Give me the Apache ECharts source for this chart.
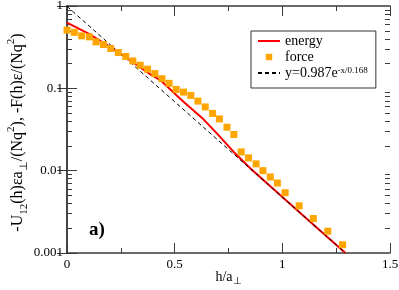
<!DOCTYPE html>
<html>
<head>
<meta charset="utf-8">
<script src="https://cdn.jsdelivr.net/npm/echarts@6/dist/echarts.min.js"></script>
<style>html,body{margin:0;padding:0;background:#fff;}#c{width:399px;height:290px;}</style>
</head>
<body>
<div id="c"></div>
<script>
// ---- data ----
const forceX = [0, 0.034, 0.068, 0.104, 0.135, 0.169, 0.203, 0.238, 0.273, 0.306, 0.340, 0.374, 0.408, 0.441, 0.474, 0.507, 0.541, 0.575, 0.608, 0.642, 0.676, 0.708, 0.743, 0.775, 0.809, 0.843, 0.878, 0.910, 0.944, 0.977, 1.013, 1.078, 1.144, 1.211, 1.28];
const forceY = [0.51, 0.478, 0.434, 0.422, 0.367, 0.341, 0.305, 0.272, 0.244, 0.215, 0.191, 0.171, 0.151, 0.131, 0.115, 0.097, 0.090, 0.082, 0.070, 0.0594, 0.0496, 0.0425, 0.0337, 0.0275, 0.0169, 0.0143, 0.0121, 0.0100, 0.00838, 0.00708, 0.0054, 0.00374, 0.00262, 0.00184, 0.00126];
const energyX = [0, 0.1, 0.2, 0.3, 0.386, 0.433, 0.541, 0.634, 0.696, 0.773, 0.851, 1.0, 1.15, 1.293];
const energyY = [0.63, 0.462, 0.32, 0.212, 0.149, 0.126, 0.0687, 0.042, 0.0284, 0.017, 0.0107, 0.0048, 0.00215, 0.001];
const fitX = [0, 1.293];
const fitY = [0.99, 0.001];
const xTicks = [0, 0.5, 1, 1.5];
const xTickLabels = ['0', '0.5', '1', '1.5'];
const yTicks = [0.001, 0.01, 0.1, 1];
const yTickLabels = ['0.001', '0.01', '0.1', '1'];
const yMinorMult = [2, 3, 4, 5, 6, 7, 8, 9];

const yMinor = [];
yTicks.slice(0, -1).forEach(d => yMinorMult.forEach(m => yMinor.push(+(d * m).toPrecision(3))));
const pairs = (xs, ys) => xs.map((x, i) => [x, ys[i]]);

const FONT = 'Liberation Serif';
const frame = '#3a3a3a';

const chart = echarts.init(document.getElementById('c'), null, {renderer: 'canvas'});
const baseX = {
  type: 'value', min: 0, max: 1.5, interval: 0.5, gridIndex: 0,
  axisLine: {show: true, lineStyle: {color: frame, width: 1.5}},
  axisTick: {show: true, inside: true, length: 10, lineStyle: {color: frame, width: 1}},
  minorTick: {show: true, splitNumber: 2, length: 5, lineStyle: {color: frame, width: 1}},
  splitLine: {show: false}, minorSplitLine: {show: false}
};
const baseY = {
  type: 'log', logBase: 10, min: 0.001, max: 1, gridIndex: 0,
  axisLine: {show: true, lineStyle: {color: frame, width: 1.5}},
  axisTick: {show: true, inside: true, length: 10, lineStyle: {color: frame, width: 1}},
  splitLine: {show: false}
};
const minorY = (pos) => ({
  type: 'log', logBase: 10, min: 0.001, max: 1, position: pos, gridIndex: 0,
  axisLine: {show: false},
  axisTick: {show: true, inside: true, length: 5, customValues: yMinor, lineStyle: {color: frame, width: 1}},
  axisLabel: {show: false}, splitLine: {show: false}
});

chart.setOption({
  animation: false,
  backgroundColor: '#fff',
  textStyle: {fontFamily: FONT},
  title: {
    text: 'a)', left: 84, top: 216,
    textStyle: {fontFamily: FONT, fontSize: 19, fontWeight: 'bold', color: '#000'}
  },
  grid: {left: 67, right: 9, top: 6, bottom: 37, containLabel: false, outerBoundsMode: 'none'},
  legend: {
    orient: 'vertical', left: 251, top: 31,
    borderColor: '#333', borderWidth: 1, padding: [3, 8, 8, 6],
    itemWidth: 22, itemHeight: 8, itemGap: 2,
    textStyle: {fontFamily: FONT, fontSize: 14, color: '#000',
      rich: {sup: {fontFamily: FONT, fontSize: 9, verticalAlign: 'top', lineHeight: 9, color: '#000'}}},
    data: [
      {name: 'energy', itemStyle: {color: 'rgba(0,0,0,0)', borderWidth: 0}},
      {name: 'force'},
      {name: 'fit', itemStyle: {color: 'rgba(0,0,0,0)', borderWidth: 0}}
    ],
    formatter: n => n === 'fit' ? 'y=0.987e{sup|-x/0.168}' : n
  },
  xAxis: [
    Object.assign({}, baseX, {
      position: 'bottom',
      name: 'h/a{sub|⊥}', nameLocation: 'middle', nameGap: 15, nameMoveOverlap: false,
      nameTextStyle: {fontFamily: FONT, fontSize: 14, color: '#000', lineHeight: 18,
        rich: {sub: {fontFamily: FONT, fontSize: 10, verticalAlign: 'bottom', lineHeight: 8, color: '#000'}}},
      axisLabel: {show: true, margin: 5, fontFamily: FONT, fontSize: 13, color: '#000',
        formatter: v => { const i = xTicks.indexOf(+v.toFixed(3)); return i >= 0 ? xTickLabels[i] : ''; }}
    }),
    Object.assign({}, baseX, {position: 'top', axisLabel: {show: false}})
  ],
  yAxis: [
    Object.assign({}, baseY, {
      position: 'left',
      name: '-U{sub|12}(h)εa{sub|⊥}/(Nq{sup|2}), -F(h)ε/(Nq{sup|2})',
      nameLocation: 'middle', nameRotate: 90, nameGap: 37, nameMoveOverlap: false,
      nameTextStyle: {fontFamily: FONT, fontSize: 16, color: '#000', lineHeight: 24, padding: [0, 6, 0, 0],
        rich: {
          sub: {fontFamily: FONT, fontSize: 11, verticalAlign: 'bottom', lineHeight: 10, color: '#000'},
          sup: {fontFamily: FONT, fontSize: 11, verticalAlign: 'top', lineHeight: 10, color: '#000'}
        }},
      axisLabel: {show: true, margin: 4, fontFamily: FONT, fontSize: 13, color: '#000',
        formatter: v => { let best = 0; yTicks.forEach((t, i) => { if (Math.abs(Math.log10(t) - Math.log10(v)) < Math.abs(Math.log10(yTicks[best]) - Math.log10(v))) best = i; }); return yTickLabels[best]; }}
    }),
    Object.assign({}, baseY, {position: 'right', axisLabel: {show: false}}),
    minorY('left'),
    minorY('right')
  ],
  series: [
    {name: 'energy', type: 'line', xAxisIndex: 0, yAxisIndex: 0, data: pairs(energyX, energyY),
     symbol: 'none', smooth: false, lineStyle: {color: '#ff0000', width: 2}, itemStyle: {color: '#ff0000'}, z: 2},
    {name: 'fit', type: 'line', xAxisIndex: 0, yAxisIndex: 0, data: pairs(fitX, fitY),
     symbol: 'none', lineStyle: {color: '#000', width: 1, type: [4, 3]}, itemStyle: {color: '#000'}, z: 3},
    {name: 'force', type: 'line', xAxisIndex: 0, yAxisIndex: 0, data: pairs(forceX, forceY),
     symbol: 'rect', symbolSize: 7, showSymbol: true, showAllSymbol: true,
     lineStyle: {width: 0, opacity: 0}, itemStyle: {color: '#ffa500'}, z: 4}
  ]
});
</script>
</body>
</html>
